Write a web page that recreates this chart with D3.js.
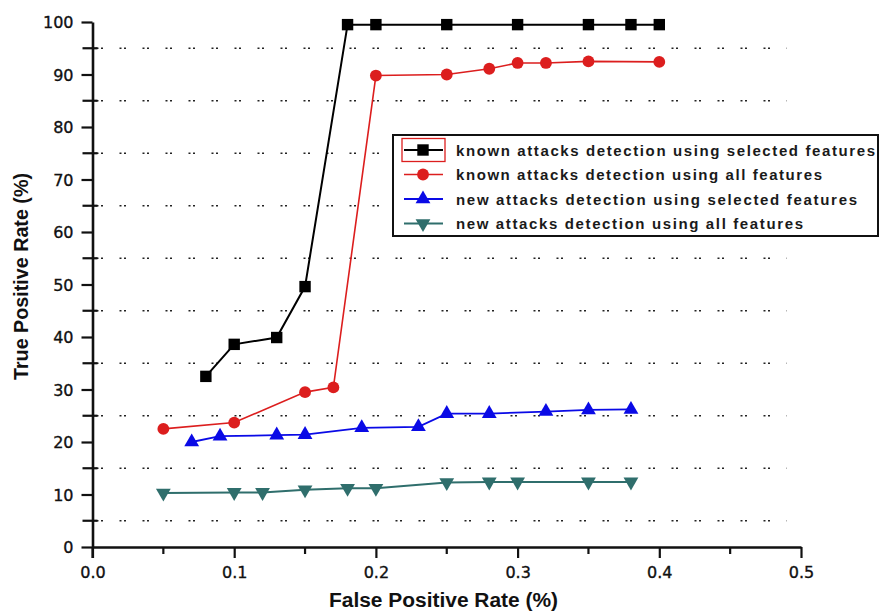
<!DOCTYPE html>
<html>
<head>
<meta charset="utf-8">
<script src="https://cdn.jsdelivr.net/npm/d3@7"></script>
<style>
  body { margin: 0; background: #fff; }
  svg { display: block; }
  text { font-family: "Liberation Sans", Arial, sans-serif; }
</style>
</head>
<body>
<div id="vis"></div>
<script>
// data
const seriesNames = [
  "known attacks detection using selected features",
  "known attacks detection using all features",
  "new attacks detection using selected features",
  "new attacks detection using all features"
];
const knownSelX = [0.08, 0.10, 0.13, 0.15, 0.18, 0.20, 0.25, 0.30, 0.35, 0.38, 0.40];
const knownSelY = [32.5, 38.6, 39.9, 49.6, 99.5, 99.5, 99.5, 99.5, 99.5, 99.5, 99.5];
const knownAllX = [0.05, 0.10, 0.15, 0.17, 0.20, 0.25, 0.28, 0.30, 0.32, 0.35, 0.40];
const knownAllY = [22.5, 23.7, 29.5, 30.4, 89.8, 90.0, 91.1, 92.2, 92.2, 92.5, 92.4];
const newSelX = [0.07, 0.09, 0.13, 0.15, 0.19, 0.23, 0.25, 0.28, 0.32, 0.35, 0.38];
const newSelY = [20.0, 21.1, 21.3, 21.4, 22.7, 22.9, 25.4, 25.4, 25.8, 26.1, 26.2];
const newAllX = [0.05, 0.10, 0.12, 0.15, 0.18, 0.20, 0.25, 0.28, 0.30, 0.35, 0.38];
const newAllY = [10.3, 10.4, 10.4, 10.9, 11.2, 11.2, 12.3, 12.4, 12.4, 12.4, 12.4];
const xTicks = [0, 0.1, 0.2, 0.3, 0.4, 0.5];
const xMinor = [0.05, 0.15, 0.25, 0.35, 0.45];
const yTicks = [0, 10, 20, 30, 40, 50, 60, 70, 80, 90, 100];
const yMinor = [5, 15, 25, 35, 45, 55, 65, 75, 85, 95];

const width = 879, height = 615;
const svg = d3.select('#vis').append('svg')
  .attr('width', width).attr('height', height);

const x = d3.scaleLinear().domain([0, 0.5]).range([92.5, 801]);
const y = d3.scaleLinear().domain([0, 100]).range([547, 22]);

// dotted grid at the minor y positions
svg.append('g').selectAll('line').data(yMinor).join('line')
  .attr('x1', x(0)).attr('x2', x(0.49))
  .attr('y1', d => y(d)).attr('y2', d => y(d))
  .attr('stroke', '#222').attr('stroke-width', 1.6)
  .attr('stroke-dasharray', '2,2.5,2,16.5')
  .attr('stroke-dashoffset', -4);

// axes
const yAxis = svg.append('g').attr('transform', `translate(${x(0)},0)`)
  .call(d3.axisLeft(y).tickValues(yTicks).tickSize(11).tickSizeOuter(0).tickPadding(8));
const xAxis = svg.append('g').attr('transform', `translate(0,${y(0)})`)
  .call(d3.axisBottom(x).tickValues(xTicks).tickSize(11).tickSizeOuter(0).tickPadding(9)
    .tickFormat(d3.format('.1f')));
[yAxis, xAxis].forEach(g => {
  g.attr('font-family', null).attr('font-size', null);
  g.select('.domain').attr('stroke', '#111').attr('stroke-width', 2.6);
  g.selectAll('.tick line').attr('stroke', '#111').attr('stroke-width', 2.2);
  g.selectAll('.tick text')
    .style('font-family', '"DejaVu Sans", Verdana, sans-serif')
    .style('font-size', '16px')
    .attr('fill', '#111').attr('stroke', '#111').attr('stroke-width', 0.35);
});
yAxis.selectAll('.tick text').attr('dy', '0.36em');
// the 0.0 tick runs through the x axis
svg.append('line')
  .attr('x1', x(0)).attr('x2', x(0)).attr('y1', y(0)).attr('y2', y(0) + 11)
  .attr('stroke', '#111').attr('stroke-width', 2.2);

// minor ticks
svg.append('g').selectAll('line').data(yMinor).join('line')
  .attr('x1', x(0) - 10).attr('x2', x(0) + 5)
  .attr('y1', d => y(d)).attr('y2', d => y(d))
  .attr('stroke', '#111').attr('stroke-width', 2.2);
svg.append('g').selectAll('line').data(xMinor).join('line')
  .attr('x1', d => x(d)).attr('x2', d => x(d))
  .attr('y1', y(0)).attr('y2', y(0) + 7)
  .attr('stroke', '#111').attr('stroke-width', 2.2);

// axis titles
svg.append('text')
  .attr('x', 443.5).attr('y', 607)
  .attr('text-anchor', 'middle')
  .attr('font-size', 20).attr('font-weight', 'bold').attr('fill', '#111')
  .attr('textLength', 229).attr('lengthAdjust', 'spacingAndGlyphs')
  .text('False Positive Rate (%)');
svg.append('text')
  .attr('transform', 'translate(28,276.5) rotate(-90)')
  .attr('text-anchor', 'middle')
  .attr('font-size', 20).attr('font-weight', 'bold').attr('fill', '#111')
  .attr('textLength', 207).attr('lengthAdjust', 'spacingAndGlyphs')
  .text('True Positive Rate (%)');

// series
const series = [
  { xs: knownSelX, ys: knownSelY, color: '#000000', sym: d3.symbolSquare, size: 130, rot: 0, lw: 2 },
  { xs: knownAllX, ys: knownAllY, color: '#dc1e1e', sym: d3.symbolCircle, size: 110, rot: 0, lw: 1.6 },
  { xs: newSelX, ys: newSelY, color: '#0a0ae6', sym: d3.symbolTriangle, size: 95, rot: 0, lw: 1.8 },
  { xs: newAllX, ys: newAllY, color: '#2f6e6c', sym: d3.symbolTriangle, size: 95, rot: 180, lw: 2 }
];

const line = d3.line().x(d => x(d[0])).y(d => y(d[1]));

series.forEach(s => {
  const pts = s.xs.map((v, i) => [v, s.ys[i]]);
  svg.append('path').datum(pts)
    .attr('d', line)
    .attr('fill', 'none').attr('stroke', s.color).attr('stroke-width', s.lw);
  svg.append('g').selectAll('path').data(pts).join('path')
    .attr('d', d3.symbol().type(s.sym).size(s.size))
    .attr('transform', d => `translate(${x(d[0])},${y(d[1])}) rotate(${s.rot})`)
    .attr('fill', s.color);
});

// legend
const lg = svg.append('g');
lg.append('rect')
  .attr('x', 393).attr('y', 135).attr('width', 485).attr('height', 101)
  .attr('fill', '#fff').attr('stroke', '#111').attr('stroke-width', 2);
lg.append('rect')
  .attr('x', 402).attr('y', 138.5).attr('width', 43).attr('height', 23)
  .attr('fill', 'none').attr('stroke', '#dc1e1e').attr('stroke-width', 1.3);
const rowY = [150, 174.5, 199, 223.5];
const textLen = [419, 366, 401, 347];
series.forEach((s, i) => {
  const ry = rowY[i];
  lg.append('line')
    .attr('x1', 404).attr('x2', 443).attr('y1', ry).attr('y2', ry)
    .attr('stroke', s.color).attr('stroke-width', s.lw);
  lg.append('path')
    .attr('d', d3.symbol().type(s.sym).size(s.size)())
    .attr('transform', `translate(423,${ry}) rotate(${s.rot})`)
    .attr('fill', s.color);
  lg.append('text')
    .attr('x', 456).attr('y', ry + 5.5)
    .attr('font-size', 15).attr('font-weight', 'bold').attr('fill', '#1a1a1a')
    .attr('textLength', textLen[i]).attr('lengthAdjust', 'spacing')
    .text(seriesNames[i]);
});
</script>
</body>
</html>
